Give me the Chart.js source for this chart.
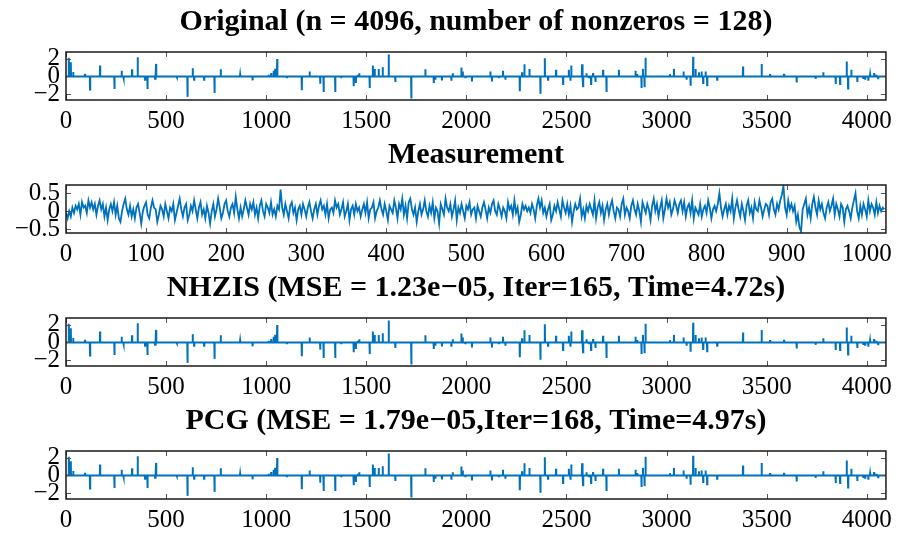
<!DOCTYPE html>
<html>
<head>
<meta charset="utf-8">
<script src="https://cdn.jsdelivr.net/npm/chart.js@4.4.0/dist/chart.umd.min.js"></script>
<style>
html, body { margin:0; padding:0; background:#fff; overflow:hidden; }
#wrap { position:relative; width:898px; height:537px; }
.panel { position:absolute; left:0; width:898px; }
</style>
</head>
<body>
<div id="wrap">
    <div class="panel" id="p1"><canvas id="c1"></canvas></div>
    <div class="panel" id="p2"><canvas id="c2"></canvas></div>
    <div class="panel" id="p3"><canvas id="c3"></canvas></div>
    <div class="panel" id="p4"><canvas id="c4"></canvas></div>
</div>
<script>
// * =============== データ =============== *

// 疎信号 (n = 4096) の非ゼロ位置と値
const spikePos = [14, 24, 36, 95, 120, 170, 242, 278, 287, 330, 358, 395, 407, 445, 450, 553, 607, 633, 640, 690,
    742, 773, 870, 932, 1012, 1025, 1037, 1045, 1055, 1103, 1178, 1217, 1270, 1287, 1345, 1375, 1437, 1448, 1458, 1465,
    1517, 1533, 1542, 1562, 1582, 1612, 1645, 1725, 1795, 1837, 1845, 1878, 1925, 1932, 1975, 1982, 1995, 2028, 2120, 2128,
    2162, 2183, 2195, 2267, 2278, 2290, 2315, 2370, 2392, 2408, 2448, 2483, 2512, 2520, 2524, 2578, 2583, 2600, 2612, 2623,
    2633, 2645, 2683, 2700, 2762, 2845, 2853, 2875, 2882, 2890, 2895, 3017, 3037, 3085, 3100, 3120, 3133, 3145, 3162, 3175,
    3183, 3195, 3203, 3253, 3382, 3475, 3517, 3587, 3650, 3745, 3783, 3845, 3867, 3900, 3907, 3923, 3953, 3983, 3992, 4008,
    4017, 4037, 4048, 4057];
const spikeAmp = [2.1, 1.6, 0.5, 0.3, -1.48, 1.22, -1.41, 0.63, -0.15, 0.81, 2.15, -0.37, -1.41, -0.26, 1.41, -0.07, -2.3, 0.93, -0.37, -0.37,
    -1.85, 0.81, 0.19, -0.44, 0.19, 0.37, 0.63, 0.85, 1.96, -0.19, -1.56, 0.56, -0.81, -1.74, -1.74, -0.19, -1.1, -0.74, 0.19, 0.37,
    -1.3, 1.22, 0.85, 0.85, 1.04, 2.48, -0.63, -2.48, 0.81, -0.74, -0.37, -0.44, -0.48, 0.37, 1.0, 0.56, -0.19, -0.56, 0.56, -0.56,
    -0.19, 0.63, -0.37, -1.67, 0.48, 1.37, 0.85, -1.96, 2.04, -0.37, 0.74, -0.85, 0.74, -0.48, 1.22, 1.37, -1.1, 0.37, -0.19, -0.85,
    0.37, -0.63, 0.74, -1.74, 0.74, 0.63, 0.26, -1.3, 0.85, -1.22, 2.1, 0.26, 0.85, 0.56, -0.37, -1.04, 2.22, 0.85, 0.48, 0.56,
    -0.74, 0.56, -1.0, -0.37, 1.11, 1.41, 0.26, 0.3, -0.67, -0.26, 0.48, -0.85, -0.85, 1.67, -1.37, 0.74, -0.63, -0.26, -0.26, -0.48,
    0.19, 0.37, 0.19, -0.19];

// 観測値 (m = 1024) 2サンプルごとに読み取り
const measStep = 2;
const measVal = [
    -0.05, -0.2, 0.0, -0.15, 0.1, -0.05, 0.15, 0.05, 0.2, -0.1, 0.25, 0.1, 0.15, -0.05, 0.3, 0.1,
    0.25, 0.05, 0.2, -0.1, 0.15, 0.3, 0.05, 0.2, -0.15, 0.1, -0.25, 0.05, 0.2, 0.0, 0.25, -0.1,
    0.15, -0.2, -0.3, 0.0, 0.2, 0.35, 0.05, -0.1, 0.15, -0.15, 0.05, -0.2, 0.1, 0.2, -0.05, -0.35,
    0.0, 0.15, 0.25, -0.1, -0.2, 0.1, 0.3, 0.1, 0.05, -0.3, -0.1, 0.15, 0.05, -0.15, 0.2, 0.0,
    -0.2, 0.1, 0.0, 0.2, -0.25, -0.05, 0.15, 0.35, 0.05, -0.15, 0.1, 0.2, -0.25, -0.1, 0.15, 0.0,
    0.3, 0.05, -0.2, 0.1, 0.25, -0.1, 0.05, -0.2, 0.15, -0.05, -0.35, 0.0, 0.2, -0.15, 0.05, 0.35,
    0.1, -0.2, -0.05, 0.2, 0.3, 0.0, -0.15, 0.1, 0.2, -0.05, 0.4, 0.05, -0.2, 0.1, -0.15, 0.05,
    0.3, 0.1, -0.1, 0.2, 0.05, 0.25, -0.1, 0.1, -0.2, 0.15, 0.3, 0.0, -0.15, 0.2, 0.1, -0.05,
    0.25, -0.1, 0.05, -0.15, 0.15, 0.05, 0.6, 0.1, -0.1, 0.2, 0.0, -0.2, 0.15, 0.25, -0.05, 0.1,
    -0.25, 0.05, 0.15, -0.1, 0.2, 0.05, -0.15, 0.1, 0.25, 0.0, -0.2, 0.05, 0.2, -0.1, 0.15, 0.3,
    0.05, 0.15, -0.1, 0.2, -0.2, 0.05, 0.1, -0.05, 0.3, 0.1, 0.2, -0.1, 0.05, 0.25, -0.15, 0.0,
    0.2, -0.25, 0.05, 0.15, -0.1, 0.2, 0.0, 0.1, -0.15, 0.05, 0.2, -0.05, 0.25, -0.2, 0.05, 0.1,
    0.25, -0.2, 0.0, 0.1, 0.3, 0.05, -0.1, 0.2, 0.0, -0.25, 0.15, 0.05, -0.05, 0.3, 0.1, -0.2,
    0.2, 0.05, 0.35, -0.1, 0.15, -0.2, 0.25, 0.35, 0.05, -0.1, 0.1, -0.3, 0.0, 0.2, -0.1, 0.05,
    0.3, 0.0, -0.15, 0.15, -0.05, 0.25, -0.2, 0.1, 0.0, -0.35, 0.2, 0.05, -0.1, 0.35, 0.1, 0.0,
    0.2, -0.15, 0.05, 0.3, -0.25, 0.1, -0.05, 0.2, 0.0, -0.2, 0.15, 0.05, 0.25, -0.1, 0.05, 0.1,
    -0.2, 0.15, 0.0, -0.15, 0.1, 0.25, 0.05, -0.2, 0.1, -0.05, 0.2, 0.3, 0.0, -0.1, 0.2, 0.05,
    -0.15, 0.1, 0.0, -0.2, 0.25, 0.05, 0.15, -0.1, 0.3, -0.05, 0.1, -0.3, -0.1, 0.2, 0.05, 0.15,
    0.0, 0.1, -0.05, 0.2, 0.05, -0.2, 0.15, 0.35, 0.1, 0.3, -0.05, 0.1, -0.15, 0.05, 0.2, -0.25,
    -0.1, 0.15, 0.0, 0.25, 0.05, -0.15, 0.3, 0.1, -0.05, 0.2, -0.1, 0.15, -0.3, 0.0, 0.2, 0.05,
    0.1, 0.35, -0.15, 0.05, -0.2, 0.15, 0.0, 0.2, 0.05, -0.1, 0.3, -0.2, 0.1, 0.25, -0.05, 0.15,
    -0.25, 0.05, 0.2, -0.1, 0.15, 0.3, 0.0, -0.2, 0.1, 0.05, -0.15, 0.2, 0.35, -0.1, 0.1, 0.0,
    -0.2, 0.15, 0.3, 0.05, -0.1, 0.2, 0.0, -0.3, 0.25, 0.1, -0.05, 0.2, 0.05, -0.25, 0.15, 0.35,
    0.0, 0.2, -0.15, 0.1, 0.3, -0.2, 0.05, 0.35, 0.1, 0.25, -0.1, 0.05, 0.3, 0.15, -0.05, 0.2,
    0.3, 0.0, 0.25, -0.15, 0.1, 0.2, -0.05, 0.3, -0.2, 0.1, 0.0, -0.1, 0.2, -0.15, 0.05, 0.15,
    -0.05, 0.3, 0.1, -0.2, 0.05, 0.15, 0.0, 0.2, 0.5, 0.1, -0.15, 0.05, 0.2, -0.1, 0.15, 0.0,
    0.35, -0.2, 0.1, 0.3, 0.05, -0.15, 0.2, 0.0, -0.25, 0.15, 0.3, -0.05, 0.1, -0.2, 0.25, 0.05,
    0.0, 0.3, 0.1, -0.15, 0.05, 0.2, 0.15, -0.1, 0.25, 0.35, 0.05, -0.1, 0.2, 0.05, 0.3, 0.45,
    0.7, 0.1, -0.1, 0.3, 0.05, 0.2, 0.0, 0.15, -0.3, -0.1, -0.45, -0.57, 0.05, 0.2, 0.35, -0.1,
    0.1, -0.2, 0.2, 0.4, 0.1, -0.1, 0.3, 0.05, 0.2, -0.05, -0.2, 0.1, 0.25, 0.0, 0.15, 0.35,
    -0.1, 0.2, 0.05, -0.15, 0.2, 0.1, -0.3, 0.05, 0.15, 0.0, -0.2, 0.1, 0.3, 0.5, 0.0, -0.2,
    0.15, -0.1, 0.2, 0.05, -0.15, 0.3, 0.0, 0.2, 0.1, -0.1, 0.25, -0.05, 0.15, 0.0, 0.1, 0.05
];

// 目盛り
const sparseXTicks = [0, 500, 1000, 1500, 2000, 2500, 3000, 3500, 4000];
const sparseYTicks = [-2, 0, 2];
const measXTicks = [0, 100, 200, 300, 400, 500, 600, 700, 800, 900, 1000];
const measYTicks = [-0.5, 0, 0.5];

const titles = [
    'Original (n = 4096, number of nonzeros = 128)',
    'Measurement',
    'NHZIS (MSE = 1.23e\u221205, Iter=165, Time=4.72s)',
    'PCG (MSE = 1.79e\u221205,Iter=168, Time=4.97s)'
];

// * =============== 共通設定 =============== *

const BLUE = 'rgb(0, 114, 189)';
const FONT = '"Liberation Serif", "Times New Roman", serif';
const TITLE_SIZE = 30;
const TITLE_PAD = 30 - TITLE_SIZE * 0.6;        // タイトル中心からプロット上端まで約30px
const TITLE_H = TITLE_SIZE * 1.2 + TITLE_PAD;    // タイトル部分の高さ
const PLOT_H = 48;
const XAXIS_H = 34;
const PLOT_TOPS = [51.5, 184.5, 317.5, 450.5];

// 疎信号 → 折れ線用の点列
function sparseLine() {
    var pts = [{x: 0, y: 0}];
    for (var i = 0; i < spikePos.length; i++) {
        pts.push({x: spikePos[i] - 1, y: 0});
        pts.push({x: spikePos[i], y: spikeAmp[i]});
        pts.push({x: spikePos[i] + 1, y: 0});
    }
    pts.push({x: 4095, y: 0});
    return pts;
}

function measLine() {
    return measVal.map(function (v, i) { return {x: i * measStep, y: v}; });
}

// MATLAB風の枠と内向きの目盛り
const boxTicks = {
    id: 'boxTicks',
    afterDraw(chart) {
        const ctx = chart.ctx, a = chart.chartArea;
        const sx = chart.scales.x, sy = chart.scales.y;
        ctx.save();
        ctx.strokeStyle = '#555';
        ctx.lineWidth = 1;
        ctx.beginPath();
        sx.ticks.forEach(function (t) {
            const px = Math.round(sx.getPixelForValue(t.value)) + 0.5;
            ctx.moveTo(px, a.bottom); ctx.lineTo(px, a.bottom - 5);
            ctx.moveTo(px, a.top); ctx.lineTo(px, a.top + 5);
        });
        sy.ticks.forEach(function (t) {
            const py = Math.round(sy.getPixelForValue(t.value)) + 0.5;
            ctx.moveTo(a.left, py); ctx.lineTo(a.left + 5, py);
            ctx.moveTo(a.right, py); ctx.lineTo(a.right - 5, py);
        });
        ctx.stroke();
        ctx.strokeStyle = '#1a1a1a';
        ctx.lineWidth = 1.5;
        ctx.strokeRect(a.left, a.top, a.width, a.height);
        ctx.restore();
    }
};

function fmt(v) {
    return String(v).replace('-', '\u2212');
}

function makePanel(n, data, lw, xMax, yMin, yMax, xTicks, yTicks) {
    const div = document.getElementById('p' + n);
    div.style.top = (PLOT_TOPS[n - 1] - TITLE_H) + 'px';
    div.style.height = (TITLE_H + PLOT_H + XAXIS_H) + 'px';
    const tickFont = {family: FONT, size: 25};
    new Chart(document.getElementById('c' + n), {
        type: 'line',
        data: {
            datasets: [{
                data: data,
                borderColor: BLUE,
                borderWidth: lw,
                pointRadius: 0,
                tension: 0
            }]
        },
        options: {
            responsive: true,
            maintainAspectRatio: false,
            animation: false,
            events: [],
            layout: {padding: {left: 0, right: 11.5, top: 0, bottom: 0}},
            plugins: {
                legend: {display: false},
                tooltip: {enabled: false},
                title: {
                    display: true,
                    fullSize: false,   // プロット領域の中央に置く
                    text: titles[n - 1],
                    color: '#000',
                    font: {family: FONT, size: TITLE_SIZE, weight: 'bold'},
                    padding: {top: 0, bottom: TITLE_PAD}
                }
            },
            scales: {
                x: {
                    type: 'linear',
                    min: 0,
                    max: xMax,
                    grid: {display: false, drawTicks: false},
                    border: {display: false},
                    ticks: {font: tickFont, color: '#000', padding: 6, maxRotation: 0, autoSkip: false, callback: fmt},
                    afterBuildTicks: function (s) { s.ticks = xTicks.map(function (v) { return {value: v}; }); },
                    afterFit: function (s) { s.height = XAXIS_H; }
                },
                y: {
                    min: yMin,
                    max: yMax,
                    grid: {display: false, drawTicks: false},
                    border: {display: false},
                    ticks: {font: tickFont, color: '#000', padding: 6, autoSkip: false, callback: fmt},
                    afterBuildTicks: function (s) { s.ticks = yTicks.map(function (v) { return {value: v}; }); },
                    afterFit: function (s) { s.width = 66; }
                }
            }
        },
        plugins: [boxTicks]
    });
}

makePanel(1, sparseLine(), 2, 4096, -2.65, 2.75, sparseXTicks, sparseYTicks);
makePanel(2, measLine(), 1.8, 1024, -0.61, 0.73, measXTicks, measYTicks);
makePanel(3, sparseLine(), 2, 4096, -2.65, 2.75, sparseXTicks, sparseYTicks);
makePanel(4, sparseLine(), 2, 4096, -2.65, 2.75, sparseXTicks, sparseYTicks);
</script>
</body>
</html>
